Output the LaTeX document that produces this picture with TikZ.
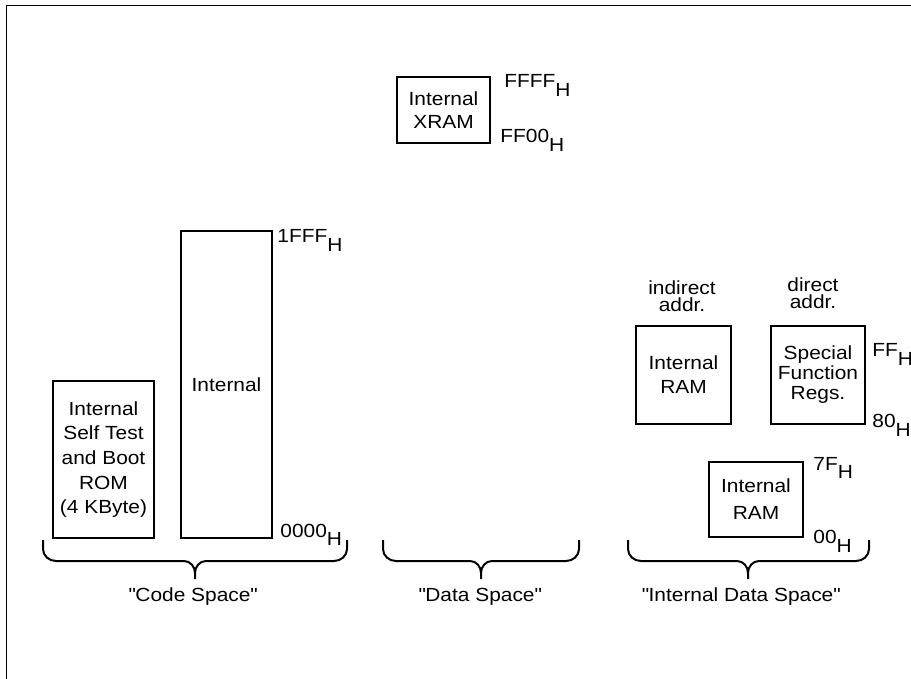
\documentclass[tikz,border=0pt]{standalone}
\usepackage{fontspec}
\setmainfont{Liberation Sans}[FakeStretch=1.1]
\tikzstyle{membox} = [rectangle, draw=black, line width=1pt, inner sep=0pt, align=center]
\tikzstyle{addr} = [inner sep=0pt, anchor=base west]
\tikzstyle{note} = [inner sep=0pt, align=center]
\tikzstyle{space} = [line width=1pt]
\tikzstyle{caption} = [inner sep=0pt, anchor=base]
\newcommand{\hsub}{\raisebox{-4.5pt}{H}}
\newcommand{\dq}{\textquotedbl}
% brace under a memory space: left x, middle x, right x
\newcommand{\spacebrace}[3]{%
  \draw [space] (#1,540) -- (#1,549) to[out=-90,in=180] ($(#1,561)+(13,0)$) -- ($(#2,561)-(11,0)$)
    to[out=0,in=90] (#2,573) -- (#2,579) -- (#2,573) to[out=90,in=180] ($(#2,561)+(11,0)$)
    -- ($(#3,561)-(13,0)$) to[out=0,in=-90] (#3,549) -- (#3,540);}
\usetikzlibrary{calc}

\begin{document}
\begin{tikzpicture}[x=0.5pt, y=-0.5pt]
\useasboundingbox (0,0) rectangle (911,679);
%frame
\draw[line width=0.5pt] (6,679) -- (6,6) -- (911,6);
%nodes
%XRAM
\node[font=\fontsize{9.5pt}{11.5pt}\selectfont] (xram) [membox, minimum width=46.5pt, minimum height=33pt] at (443.5,110) {Internal\\XRAM};
\node[font=\fontsize{9.5pt}{9pt}\selectfont] (xramtop) [addr] at (504,88) {FFFF\hsub};
\node[font=\fontsize{9.5pt}{9pt}\selectfont] (xrambot) [addr] at (500,143) {FF00\hsub};

%Code Space
\node[font=\fontsize{9.5pt}{12.3pt}\selectfont] (rom) [membox, minimum width=50.5pt, minimum height=78.5pt] at (103.5,459.5) {Internal\\Self Test\\and Boot\\ROM\\(4 KByte)};
\node[font=\fontsize{9.5pt}{12pt}\selectfont] (flash) [membox, minimum width=45.5pt, minimum height=153.5pt] at (226.5,384.5) {Internal};
\node[font=\fontsize{9.5pt}{9pt}\selectfont] (flashtop) [addr] at (277,243) {1FFF\hsub};
\node[font=\fontsize{9.5pt}{9pt}\selectfont] (flashbot) [addr] at (280,537) {0000\hsub};

%Internal Data Space
\node[font=\fontsize{9.5pt}{8.5pt}\selectfont] (indir) [note] at (682,296) {indirect\\addr.};
\node[font=\fontsize{9.5pt}{8.5pt}\selectfont] (dir) [note] at (813,293) {direct\\addr.};
\node[font=\fontsize{9.5pt}{12pt}\selectfont] (iram) [membox, minimum width=47.5pt, minimum height=49pt] at (683.5,375) {Internal\\RAM};
\node[font=\fontsize{9.5pt}{10pt}\selectfont] (sfr) [membox, minimum width=47pt, minimum height=49pt] at (818,375) {Special\\Function\\Regs.};
\node[font=\fontsize{9.5pt}{9pt}\selectfont] (sfrtop) [addr] at (872,357) {FF\hsub};
\node[font=\fontsize{9.5pt}{9pt}\selectfont] (sfrbot) [addr] at (872,428) {80\hsub};
\node[font=\fontsize{9.5pt}{13.5pt}\selectfont] (lram) [membox, minimum width=47pt, minimum height=37.5pt] at (756,499.5) {Internal\\RAM};
\node[font=\fontsize{9.5pt}{9pt}\selectfont] (lramtop) [addr] at (813,470) {7F\hsub};
\node[font=\fontsize{9.5pt}{9pt}\selectfont] (lrambot) [addr] at (813,543) {00\hsub};

%braces
\spacebrace{43}{195}{347}
\spacebrace{383}{481}{579}
\spacebrace{628}{748}{869}
\node[font=\fontsize{9.5pt}{12pt}\selectfont] (code) [caption] at (193,601) {\dq Code Space\dq};
\node[font=\fontsize{9.5pt}{12pt}\selectfont] (data) [caption] at (480,601) {\dq Data Space\dq};
\node[font=\fontsize{9.5pt}{12pt}\selectfont] (idata) [caption] at (741,601) {\dq Internal Data Space\dq};
\end{tikzpicture}
\end{document}
